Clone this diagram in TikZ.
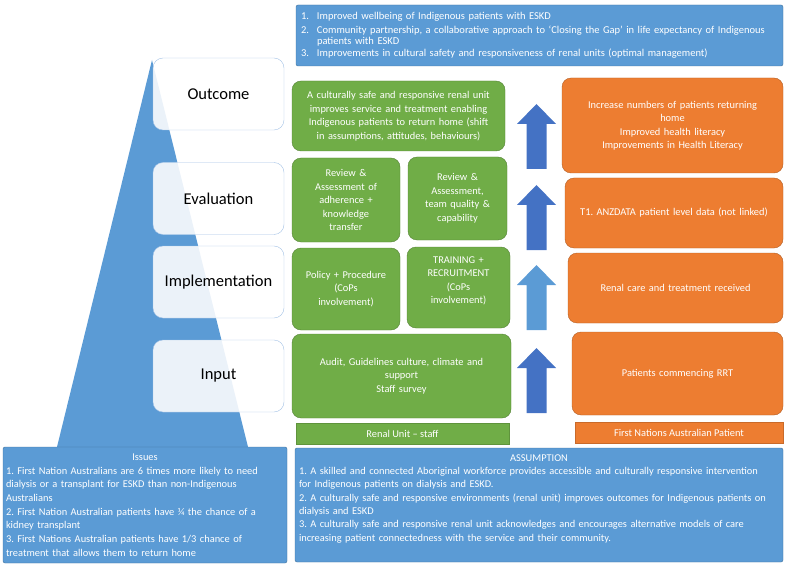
\documentclass[tikz,border=0pt]{standalone}
\usepackage{fontspec}
\setmainfont{Carlito}
\definecolor{outblue}{RGB}{91, 155, 213}
\definecolor{darkblue}{RGB}{68, 114, 196}
\definecolor{edgeblue}{RGB}{65, 113, 156}
\definecolor{lblline}{RGB}{165, 195, 230}
\definecolor{unitgreen}{RGB}{112, 173, 71}
\definecolor{patorange}{RGB}{237, 125, 49}
\usepackage{tikz}
\usetikzlibrary{positioning}
\newcommand{\boxfont}{\fontsize{10.4}{13.5}\selectfont}
\frenchspacing

\begin{document}
\begin{tikzpicture}[x=1pt, y=-1pt,
  lblbox/.style={draw=lblline, fill=white, fill opacity=0.88, text opacity=1, rounded corners=10pt,
    font=\fontsize{16.5}{19}\selectfont, minimum width=131pt, minimum height=72pt},
  greenbox/.style={draw=unitgreen!75!black, fill=unitgreen, rounded corners=9pt, text=white,
    font=\boxfont, align=center, inner sep=3pt},
  orangebox/.style={draw=patorange!75!black, fill=patorange, rounded corners=9pt, text=white,
    font=\boxfont, align=center, inner sep=3pt},
  bluebox/.style={draw=edgeblue, fill=outblue, rounded corners=2pt, text=white,
    font=\boxfont, inner sep=3pt},
  barbox/.style={text=white, font=\boxfont, minimum height=21pt, inner sep=0pt}]
  \useasboundingbox (0,0) rectangle (785,567);

  % Pyramid and levels
  \fill[outblue] (152,60) -- (248,447) -- (57,447) -- cycle;
  \node[lblbox] (outcome) at (218.5,94) {Outcome};
  \node[lblbox] (evaluation) at (218.5,198.5) {Evaluation};
  \node[lblbox] (implementation) at (218.5,282) {Implementation};
  \node[lblbox] (input) at (218.5,376) {Input};

  % Goals
  \node[bluebox, minimum width=487pt, minimum height=61pt, text width=477pt, align=left,
    font=\fontsize{10.5}{11}\selectfont] (goals) at (539.5,35.5) {
    \makebox[16pt][l]{1.}Improved wellbeing of Indigenous patients with ESKD\\[3pt]
    \makebox[16pt][l]{2.}Community partnership, a collaborative approach to `Closing the Gap' in life expectancy of Indigenous\\
    \hspace*{16pt}patients with ESKD\\[1pt]
    \makebox[16pt][l]{3.}Improvements in cultural safety and responsiveness of renal units (optimal management)
  };

  % Renal unit staff
  \node[greenbox, minimum width=213pt, minimum height=70pt, text width=207pt] (unitout) at (398.5,116) {
    A culturally safe and responsive renal unit\\ improves service and treatment enabling\\
    Indigenous patients to return home (shift\\ in assumptions, attitudes, behaviours)};
  \node[greenbox, minimum width=108pt, minimum height=84pt, text width=100pt] (uniteval) at (346,200) {
    Review \&\\ Assessment of\\ adherence +\\ knowledge\\ transfer};
  \node[greenbox, minimum width=99pt, minimum height=83pt, text width=91pt] (teameval) at (457.5,198.5) {
    Review \&\\ Assessment,\\ team quality \&\\ capability};
  \node[greenbox, minimum width=108pt, minimum height=82pt, text width=100pt] (policy) at (346,289) {
    Policy + Procedure\\ (CoPs\\ involvement)};
  \node[greenbox, minimum width=103pt, minimum height=81pt, text width=95pt] (training) at (458.5,287.5) {
    TRAINING +\\ RECRUITMENT\\ (CoPs\\ involvement)\\[1pt]\mbox{}};
  \node[greenbox, minimum width=219pt, minimum height=84pt, text width=211pt] (audit) at (401.5,376) {
    Audit, Guidelines culture, climate and\\ support\\ Staff survey};
  \node[barbox, fill=unitgreen, draw=unitgreen!85!black, minimum width=213pt] (staff) at (402.5,433.5) {Renal Unit -- staff};

  % Arrows
  \foreach \top/\col in {104/darkblue, 185/darkblue, 265/outblue, 348/darkblue}
    \fill[\col] (536.5,\top) -- ++(19.5,20) -- ++(-9.5,0) -- ++(0,45) -- ++(-20,0) -- ++(0,-45) -- ++(-9.5,0) -- cycle;

  % First Nations patient
  \node[orangebox, minimum width=221pt, minimum height=95pt, text width=213pt] (returnhome) at (672.5,125.5) {
    Increase numbers of patients returning\\ home\\ Improved health literacy\\ Improvements in Health Literacy};
  \node[orangebox, minimum width=218pt, minimum height=70pt, text width=210pt] (anzdata) at (674,213) {
    T1. ANZDATA patient level data (not linked)};
  \node[orangebox, minimum width=215pt, minimum height=70pt, text width=207pt] (care) at (675.5,288) {
    Renal care and treatment received};
  \node[orangebox, minimum width=211pt, minimum height=83pt, text width=203pt] (rrt) at (677.5,373.5) {
    Patients commencing RRT};
  \node[barbox, fill=patorange, draw=patorange!85!black, minimum width=208pt] (patient) at (679,432.5) {First Nations Australian Patient};

  % Issues
  \node[bluebox, minimum width=284pt, minimum height=116pt, text width=278pt, align=left,
    font=\fontsize{10.4}{13.7}\selectfont] (issues) at (145,505) {
    \makebox[\linewidth]{Issues}\\
    1. First Nation Australians are 6 times more likely to need\\
    dialysis or a transplant for ESKD than non-Indigenous\\
    Australians\\
    2. First Nation Australian patients have ¼ the chance of a\\
    kidney transplant\\
    3. First Nations Australian patients have 1/3 chance of\\
    treatment that allows them to return home};

  % Assumption
  \node[bluebox, minimum width=488pt, minimum height=114pt, text width=480pt, align=left,
    font=\fontsize{10.4}{13.3}\selectfont] (assumption) at (539,505) {
    \makebox[\linewidth]{ASSUMPTION}\\
    1. A skilled and connected Aboriginal workforce provides accessible and culturally responsive intervention\\
    for Indigenous patients on dialysis and ESKD.\\
    2. A culturally safe and responsive environments (renal unit) improves outcomes for Indigenous patients on\\
    dialysis and ESKD\\
    3. A culturally safe and responsive renal unit acknowledges and encourages alternative models of care\\
    increasing patient connectedness with the service and their community.\\[1pt]\mbox{}};
\end{tikzpicture}
\end{document}
